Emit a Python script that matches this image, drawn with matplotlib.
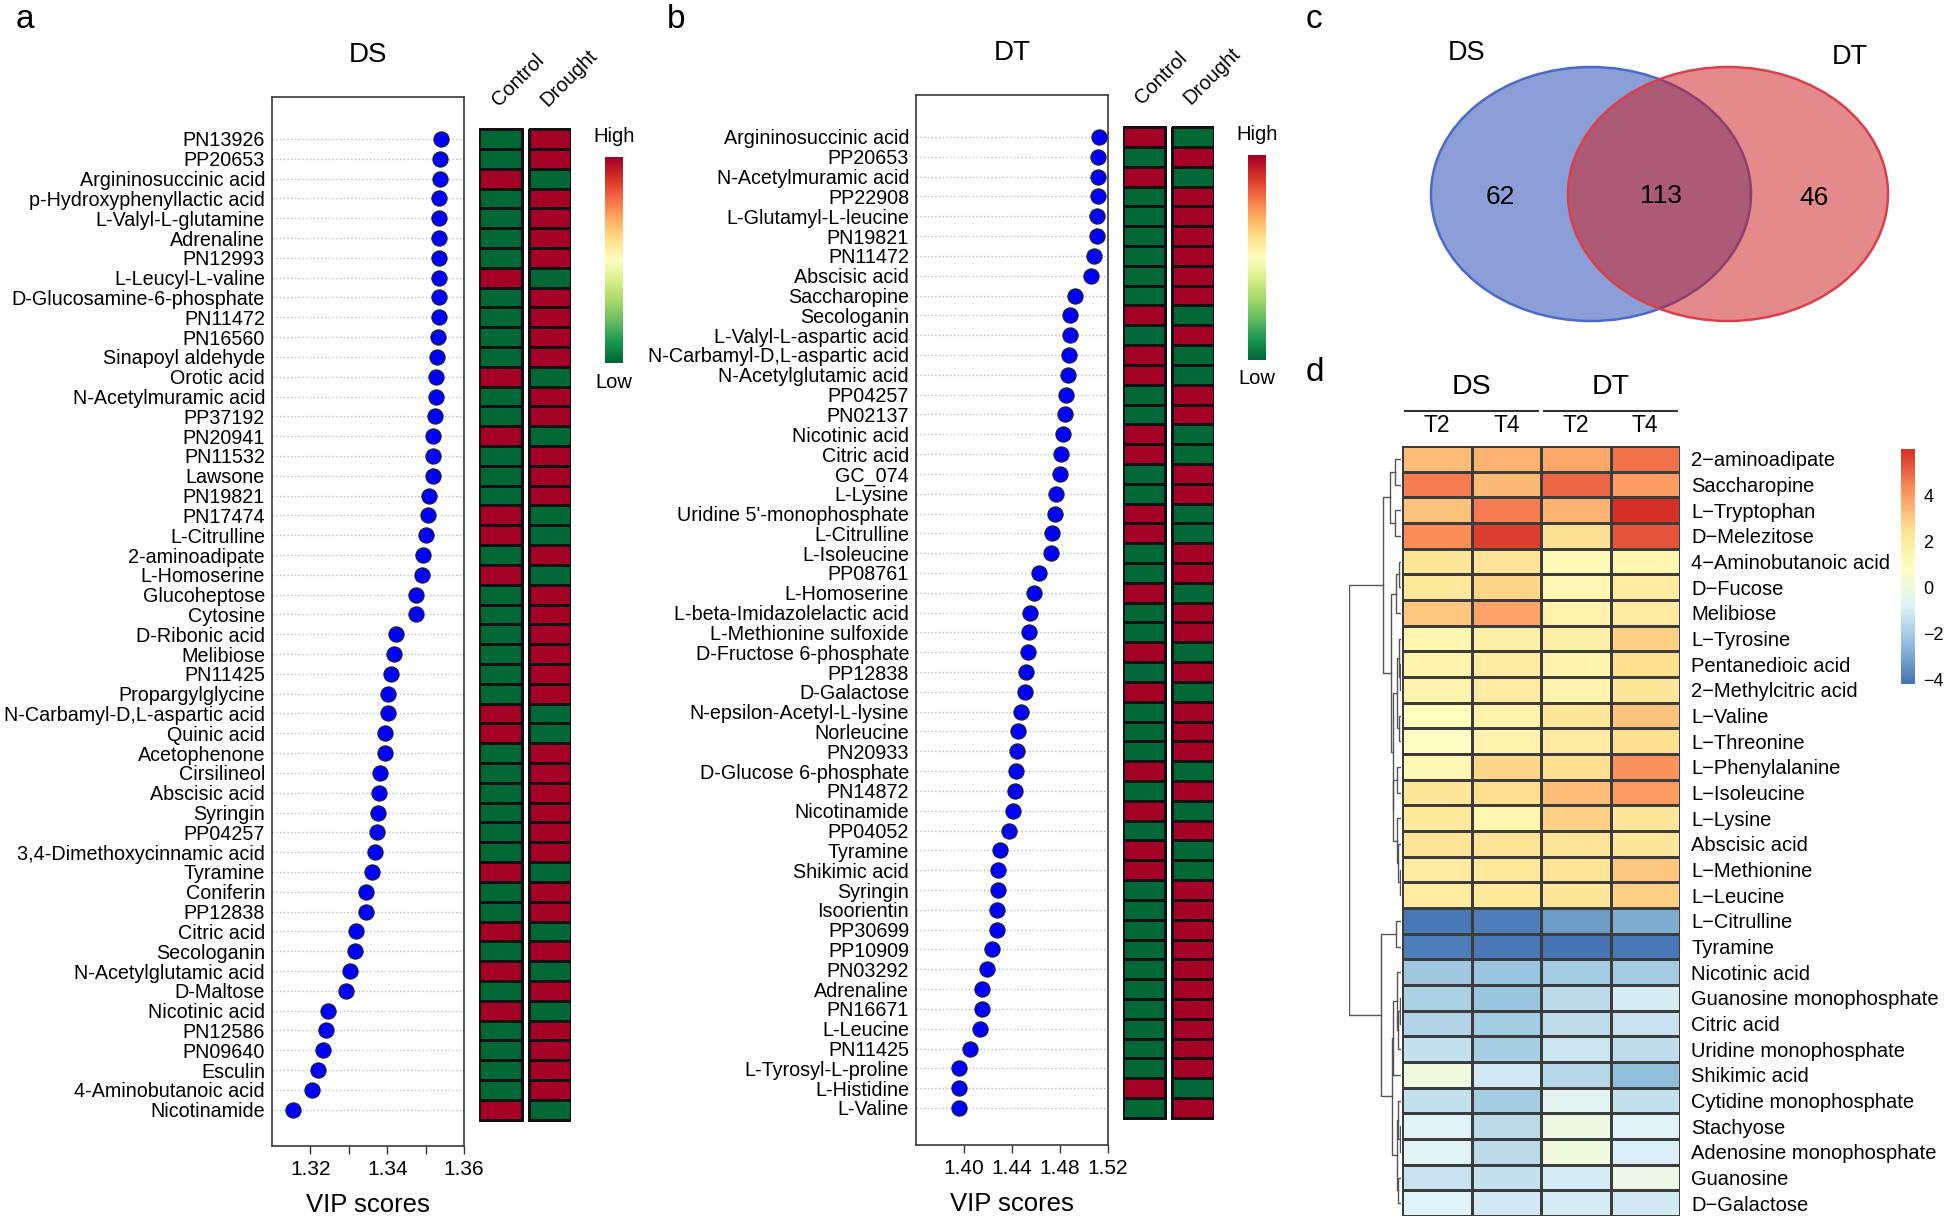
import numpy as np
import matplotlib
matplotlib.use("Agg")
import matplotlib.pyplot as plt
from matplotlib.colors import LinearSegmentedColormap
from matplotlib.patches import Ellipse

plt.rcParams['font.family'] = ['Liberation Sans', 'DejaVu Sans']

# ---------------- panel a (DS) ----------------
ds_names = [
    "PN13926", "PP20653", "Argininosuccinic acid", "p-Hydroxyphenyllactic acid",
    "L-Valyl-L-glutamine", "Adrenaline", "PN12993", "L-Leucyl-L-valine",
    "D-Glucosamine-6-phosphate", "PN11472", "PN16560", "Sinapoyl aldehyde",
    "Orotic acid", "N-Acetylmuramic acid", "PP37192", "PN20941", "PN11532",
    "Lawsone", "PN19821", "PN17474", "L-Citrulline", "2-aminoadipate",
    "L-Homoserine", "Glucoheptose", "Cytosine", "D-Ribonic acid", "Melibiose",
    "PN11425", "Propargylglycine", "N-Carbamyl-D,L-aspartic acid", "Quinic acid",
    "Acetophenone", "Cirsilineol", "Abscisic acid", "Syringin", "PP04257",
    "3,4-Dimethoxycinnamic acid", "Tyramine", "Coniferin", "PP12838",
    "Citric acid", "Secologanin", "N-Acetylglutamic acid", "D-Maltose",
    "Nicotinic acid", "PN12586", "PN09640", "Esculin", "4-Aminobutanoic acid",
    "Nicotinamide",
]
ds_vip = [
    1.3540, 1.3537, 1.3537, 1.3536, 1.3536, 1.3535, 1.3535, 1.3535, 1.3535,
    1.3534, 1.3531, 1.3530, 1.3528, 1.3526, 1.3525, 1.3520, 1.3520, 1.3520,
    1.3509, 1.3507, 1.3501, 1.3494, 1.3491, 1.3476, 1.3475, 1.3424, 1.3417,
    1.3409, 1.3401, 1.3401, 1.3395, 1.3395, 1.3382, 1.3378, 1.3377, 1.3374,
    1.3367, 1.3360, 1.3346, 1.3345, 1.3320, 1.3316, 1.3304, 1.3292, 1.3247,
    1.3240, 1.3232, 1.3219, 1.3204, 1.3155,
]
ds_control = [
    -1, -1, 1, -1, -1, -1, -1, 1, -1, -1, -1, -1, 1, -1, -1, 1, -1, -1, -1, 1,
    1, -1, 1, -1, -1, -1, -1, -1, -1, 1, 1, -1, -1, -1, -1, -1, -1, 1, -1, -1,
    1, -1, 1, -1, 1, -1, -1, -1, -1, 1,
]
ds_drought = [
    1, 1, -1, 1, 1, 1, 1, -1, 1, 1, 1, 1, -1, 1, 1, -1, 1, 1, 1, -1,
    -1, 1, -1, 1, 1, 1, 1, 1, 1, -1, -1, 1, 1, 1, 1, 1, 1, -1, 1, 1,
    -1, 1, -1, 1, -1, 1, 1, 1, 1, -1,
]

# ---------------- panel b (DT) ----------------
dt_names = [
    "Argininosuccinic acid", "PP20653", "N-Acetylmuramic acid", "PP22908",
    "L-Glutamyl-L-leucine", "PN19821", "PN11472", "Abscisic acid", "Saccharopine",
    "Secologanin", "L-Valyl-L-aspartic acid", "N-Carbamyl-D,L-aspartic acid",
    "N-Acetylglutamic acid", "PP04257", "PN02137", "Nicotinic acid", "Citric acid",
    "GC_074", "L-Lysine", "Uridine 5'-monophosphate", "L-Citrulline",
    "L-Isoleucine", "PP08761", "L-Homoserine", "L-beta-Imidazolelactic acid",
    "L-Methionine sulfoxide", "D-Fructose 6-phosphate", "PP12838", "D-Galactose",
    "N-epsilon-Acetyl-L-lysine", "Norleucine", "PN20933", "D-Glucose 6-phosphate",
    "PN14872", "Nicotinamide", "PP04052", "Tyramine", "Shikimic acid", "Syringin",
    "Isoorientin", "PP30699", "PP10909", "PN03292", "Adrenaline", "PN16671",
    "L-Leucine", "PN11425", "L-Tyrosyl-L-proline", "L-Histidine", "L-Valine",
]
dt_vip = [
    1.5121, 1.5115, 1.5115, 1.5115, 1.5111, 1.5111, 1.5084, 1.5056, 1.4926,
    1.4882, 1.4882, 1.4875, 1.4865, 1.4851, 1.4844, 1.4827, 1.4810, 1.4803,
    1.4769, 1.4759, 1.4732, 1.4721, 1.4629, 1.4585, 1.4547, 1.4540, 1.4537,
    1.4520, 1.4509, 1.4472, 1.4448, 1.4441, 1.4431, 1.4421, 1.4410, 1.4376,
    1.4301, 1.4284, 1.4280, 1.4277, 1.4277, 1.4232, 1.4188, 1.4154, 1.4147,
    1.4137, 1.4048, 1.3959, 1.3959, 1.3959,
]
dt_control = [
    1, -1, 1, -1, -1, -1, -1, -1, -1, 1, -1, 1, 1, -1, -1, 1, 1, -1, -1, 1,
    1, -1, -1, 1, -1, -1, 1, -1, 1, -1, -1, -1, 1, -1, 1, -1, 1, 1, -1, -1,
    -1, -1, -1, -1, -1, -1, -1, -1, 1, -1,
]
dt_drought = [
    -1, 1, -1, 1, 1, 1, 1, 1, 1, -1, 1, -1, -1, 1, 1, -1, -1, 1, 1, -1,
    -1, 1, 1, -1, 1, 1, -1, 1, -1, 1, 1, 1, -1, 1, -1, 1, -1, -1, 1, 1,
    1, 1, 1, 1, 1, 1, 1, 1, -1, 1,
]

# ---------------- panel c (Venn) ----------------
venn_labels = ["DS", "DT"]
venn_counts = [62, 113, 46]   # DS only, shared, DT only

# ---------------- panel d (heatmap) ----------------
hm_groups = ["DS", "DT"]
hm_cols = ["T2", "T4", "T2", "T4"]
hm_rows = [
    "2\u2212aminoadipate", "Saccharopine", "L\u2212Tryptophan", "D\u2212Melezitose",
    "4\u2212Aminobutanoic acid", "D\u2212Fucose", "Melibiose", "L\u2212Tyrosine",
    "Pentanedioic acid", "2\u2212Methylcitric acid", "L\u2212Valine", "L\u2212Threonine",
    "L\u2212Phenylalanine", "L\u2212Isoleucine", "L\u2212Lysine", "Abscisic acid",
    "L\u2212Methionine", "L\u2212Leucine", "L\u2212Citrulline", "Tyramine",
    "Nicotinic acid", "Guanosine monophosphate", "Citric acid",
    "Uridine monophosphate", "Shikimic acid", "Cytidine monophosphate",
    "Stachyose", "Adenosine monophosphate", "Guanosine", "D\u2212Galactose",
]
hm_ds_t2 = [3.3, 4.6, 3.2, 4.3, 2.2, 2.1, 3.1, 1.4, 1.5, 1.6, 0.9, 0.8, 1.3, 2.2, 2.1,
            2.3, 2.0, 2.0, -4.1, -4.0, -2.2, -1.9, -1.8, -1.4, 0.0, -1.4, -0.8, -0.7,
            -1.3, -0.8]
hm_ds_t4 = [3.5, 3.4, 4.6, 5.7, 2.4, 2.8, 3.8, 1.8, 2.0, 2.0, 1.5, 1.5, 2.8, 2.6, 1.4,
            2.4, 2.1, 2.1, -4.0, -4.1, -2.3, -2.3, -2.1, -2.0, -1.1, -2.1, -1.6, -1.6,
            -1.4, -1.1]
hm_dt_t2 = [3.7, 5.0, 3.5, 2.5, 1.2, 1.3, 1.6, 1.8, 1.5, 1.6, 2.2, 2.0, 2.6, 3.3, 2.9,
            2.4, 2.4, 2.2, -3.3, -4.2, -2.1, -1.6, -1.5, -1.2, -1.7, -0.6, -0.1, 0.0,
            -1.0, -1.0]
hm_dt_t4 = [4.8, 4.0, 6.0, 5.3, 1.4, 2.0, 2.0, 2.9, 2.6, 2.2, 3.2, 2.6, 4.2, 4.0, 2.2,
            2.2, 3.1, 2.9, -2.9, -4.1, -2.1, -1.0, -1.3, -1.5, -2.5, -1.4, -0.8, -0.9,
            -0.2, -1.1]

W, H = 1946, 1219


def rect(l, t, r, b):
    return [l / W, 1 - b / H, (r - l) / W, (b - t) / H]


def fx(x):
    return x / W


def fy(y):
    return 1 - y / H


hl_cmap = LinearSegmentedColormap.from_list(
    "hl", ["#006837", "#1A9850", "#66BD63", "#A6D96A", "#D9EF8B", "#FFFFBF",
           "#FEE08B", "#FDAE61", "#F46D43", "#D73027", "#A50026"])


def dot_panel(names, vip, ctrl, drought, ax_px, row0, row_last, hm_cols_px,
              cb_px, xlim, ticks, ticklabels, title):
    n = len(names)
    idx = np.arange(n)
    step = (row_last - row0) / (n - 1)
    ylim = ((ax_px[3] - row0) / step, (ax_px[1] - row0) / step)

    ax = fig.add_axes(rect(*ax_px))
    for i in idx:
        ax.axhline(i, color="#b5b5b5", ls=(0, (1, 2)), lw=0.9, zorder=1)
    ax.scatter(vip, idx, s=120, c="#0000FF", edgecolors="#202020",
               linewidths=0.8, zorder=3, clip_on=False)
    ax.set_xlim(*xlim)
    ax.set_ylim(*ylim)
    ax.set_yticks(idx)
    ax.set_yticklabels(names, fontsize=14.2)
    ax.tick_params(axis="y", length=0, pad=5)
    ax.set_xticks(ticks)
    ax.set_xticklabels(ticklabels, fontsize=15)
    ax.tick_params(axis="x", length=6, width=1, color="#333333", pad=4)
    for sp in ax.spines.values():
        sp.set_color("#3a3a3a")
        sp.set_linewidth(1.2)
    ax.set_xlabel("VIP scores", fontsize=18.5, labelpad=10)
    ax.set_title(title, fontsize=20, pad=25)

    # Control / Drought heatmap
    hx = fig.add_axes(rect(hm_cols_px[0][0], ax_px[1], hm_cols_px[1][1], ax_px[3]))
    x0 = hm_cols_px[0][0]
    edges_y = np.arange(n + 1) - 0.5
    for (cl, cr), vals, lab in zip(hm_cols_px, [ctrl, drought], ["Control", "Drought"]):
        hx.pcolormesh([cl - x0, cr - x0], edges_y, np.array(vals, float)[:, None],
                      cmap=hl_cmap, vmin=-1, vmax=1, edgecolors="#111111",
                      linewidth=2.0)
        hx.text((cl + cr) / 2 - x0 - 2, -0.5 - 1.1, lab, rotation=45,
                rotation_mode="anchor", ha="left", va="baseline", fontsize=14.5)
    hx.set_xlim(0, hm_cols_px[1][1] - x0)
    hx.set_ylim(*ylim)
    hx.axis("off")

    # High / Low colour key
    cx = fig.add_axes(rect(*cb_px))
    cx.imshow(np.linspace(-1, 1, 200)[:, None], aspect="auto", cmap=hl_cmap,
              origin="lower", extent=(0, 1, -1, 1))
    cx.axis("off")
    cmid = (cb_px[0] + cb_px[2]) / 2
    fig.text(fx(cmid), fy(cb_px[1] - 20), "High", ha="center", va="center", fontsize=14.5)
    fig.text(fx(cmid), fy(cb_px[3] + 19), "Low", ha="center", va="center", fontsize=14.5)
    return ax


fig = plt.figure(figsize=(W / 100, H / 100), dpi=100)

dot_panel(ds_names, ds_vip, ds_control, ds_drought,
          (272, 97, 464, 1146), 139, 1109.7, [(479, 522), (529, 571)],
          (605, 157, 623, 363), (1.31, 1.36),
          [1.32, 1.33, 1.34, 1.35, 1.36], ["1.32", "", "1.34", "", "1.36"], "DS")
dot_panel(dt_names, dt_vip, dt_control, dt_drought,
          (916, 95, 1108, 1145), 137, 1108, [(1123, 1165), (1172, 1214)],
          (1248, 155, 1266, 360), (1.36, 1.52),
          [1.40, 1.44, 1.48, 1.52], ["1.40", "1.44", "1.48", "1.52"], "DT")

# ---------------- Venn ----------------
vx = fig.add_axes(rect(1300, 0, 1946, 340))
vx.set_xlim(1300, 1946)
vx.set_ylim(340, 0)
vx.axis("off")
vx.add_patch(Ellipse((1591, 194), 320, 254, facecolor="#8B9ED7",
                     edgecolor="#4A6AC9", lw=1.8))
vx.add_patch(Ellipse((1728, 194), 320, 254, facecolor=(205 / 255, 23 / 255, 23 / 255, 0.5),
                     edgecolor="#D9404C", lw=1.8))
vx.text(1500, 197, str(venn_counts[0]), ha="center", va="center", fontsize=19)
vx.text(1661, 196, str(venn_counts[1]), ha="center", va="center", fontsize=19)
vx.text(1814, 198, str(venn_counts[2]), ha="center", va="center", fontsize=19)
vx.text(1467, 53, venn_labels[0], ha="center", va="center", fontsize=19.5)
vx.text(1850, 57, venn_labels[1], ha="center", va="center", fontsize=19.5)

# ---------------- clustered heatmap ----------------
mat = np.column_stack([hm_ds_t2, hm_ds_t4, hm_dt_t2, hm_dt_t4])
nr = mat.shape[0]
rb_cmap = LinearSegmentedColormap.from_list(
    "rb", ["#4575B4", "#91BFDB", "#E0F3F8", "#FFFFBF", "#FEE090", "#FC8D59", "#D73027"])
vmin, vmax = mat.min(), mat.max()

hax = fig.add_axes(rect(1402, 446, 1680, 1216))
hax.pcolormesh(np.arange(5), np.arange(nr + 1), mat, cmap=rb_cmap, vmin=vmin,
               vmax=vmax, edgecolors="#3c3c3c", linewidth=0.8)
hax.set_ylim(nr, 0)
hax.set_xlim(0, 4)
hax.yaxis.tick_right()
hax.set_yticks(np.arange(nr) + 0.5)
hax.set_yticklabels(hm_rows, fontsize=14.5)
hax.tick_params(axis="y", length=0, pad=8)
hax.set_xticks([])
for sp in hax.spines.values():
    sp.set_visible(False)
tr = hax.get_xaxis_transform()
for k, lab in enumerate(hm_cols):
    hax.text(k + 0.5, 1.027, lab, transform=tr, ha="center", va="center", fontsize=16.5)
for g, lab in enumerate(hm_groups):
    hax.plot([2 * g + 0.05, 2 * g + 1.95], [1.046, 1.046], transform=tr,
             color="#333333", lw=1.5, clip_on=False)
    hax.text(2 * g + 1.0, 1.077, lab, transform=tr, ha="center", va="center", fontsize=20.5)


# row dendrogram: complete linkage, merging neighbouring clusters only
def ordered_links(data):
    clusters = [{"m": [i], "p": float(i), "h": 0.0} for i in range(len(data))]
    links = []
    while len(clusters) > 1:
        best = None
        for j in range(len(clusters) - 1):
            a, b = clusters[j], clusters[j + 1]
            d = max(np.linalg.norm(data[p] - data[q]) for p in a["m"] for q in b["m"])
            if best is None or d < best[0]:
                best = (d, j)
        d, j = best
        a, b = clusters[j], clusters[j + 1]
        links.append((a["p"], a["h"], b["p"], b["h"], d))
        clusters[j:j + 2] = [{"m": a["m"] + b["m"], "p": (a["p"] + b["p"]) / 2, "h": d}]
    return links


links = ordered_links(mat)
dax = fig.add_axes(rect(1349, 446, 1401, 1216))
for p1, h1, p2, h2, h in links:
    dax.plot([h1, h, h, h2], [p1 + 0.5, p1 + 0.5, p2 + 0.5, p2 + 0.5],
             color="#555555", lw=1.0)
dax.set_ylim(nr, 0)
dax.set_xlim(links[-1][4], 0)
dax.axis("off")

# colour key
cbx = fig.add_axes(rect(1901, 449, 1915, 684))
cbx.imshow(np.linspace(vmin, vmax, 300)[:, None], aspect="auto", cmap=rb_cmap,
           origin="lower", extent=(0, 1, vmin, vmax))
cbx.set_ylim(vmin, vmax)
cbx.set_xticks([])
cbx.yaxis.tick_right()
cbx.set_yticks([-4, -2, 0, 2, 4])
cbx.tick_params(axis="y", length=0, pad=6, labelsize=13)
for sp in cbx.spines.values():
    sp.set_visible(False)

# panel letters
for lab, x, y in [("a", 16, 20), ("b", 667, 20), ("c", 1306, 20), ("d", 1306, 372)]:
    fig.text(fx(x), fy(y), lab, ha="left", va="center", fontsize=24)

fig.savefig("out.png", dpi=100)
